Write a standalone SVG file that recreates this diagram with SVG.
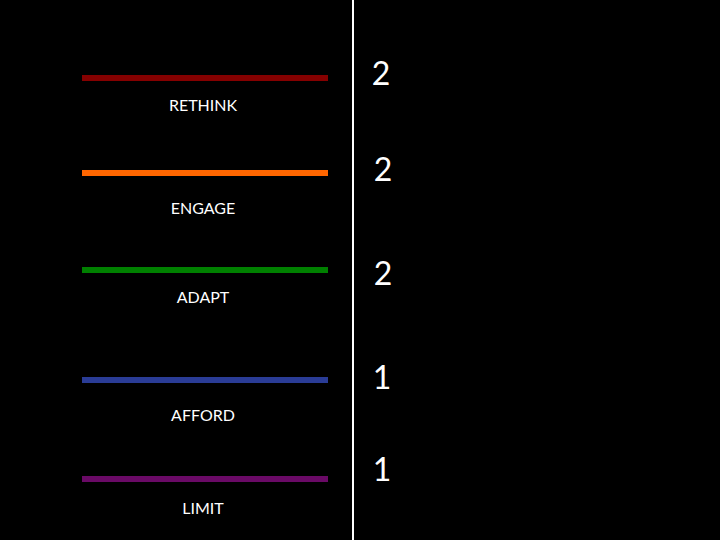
<svg xmlns="http://www.w3.org/2000/svg" width="720" height="540" viewBox="0 0 720 540">
<style>
.bar{stroke-width:6;fill:none}
.lbl{font-family:"Lato","Liberation Sans",sans-serif;font-size:16px;fill:#fff;text-anchor:middle}
.num{font-family:"Lato","Liberation Sans",sans-serif;font-size:32px;fill:#fff;text-anchor:middle}
</style>
<rect width="720" height="540" fill="#000"/>
<g id="connectors"><line x1="353" y1="0" x2="353" y2="540" stroke="#fff" stroke-width="2"/></g>
<g id="rethink"><line class="bar" x1="82" y1="78" x2="328" y2="78" stroke="#850000"/><text class="lbl" x="203" y="111">RETHINK</text><text class="num" x="381" y="85">2</text></g>
<g id="engage"><line class="bar" x1="82" y1="173" x2="328" y2="173" stroke="#FF6600"/><text class="lbl" x="203" y="214">ENGAGE</text><text class="num" x="383" y="181">2</text></g>
<g id="adapt"><line class="bar" x1="82" y1="270" x2="328" y2="270" stroke="#008000"/><text class="lbl" x="203" y="303">ADAPT</text><text class="num" x="383" y="285">2</text></g>
<g id="afford"><line class="bar" x1="82" y1="380" x2="328" y2="380" stroke="#2A3C96"/><text class="lbl" x="203" y="421">AFFORD</text><text class="num" x="382" y="389">1</text></g>
<g id="limit"><line class="bar" x1="82" y1="479" x2="328" y2="479" stroke="#6A0A66"/><text class="lbl" x="203" y="514">LIMIT</text><text class="num" x="382" y="481">1</text></g>
</svg>
